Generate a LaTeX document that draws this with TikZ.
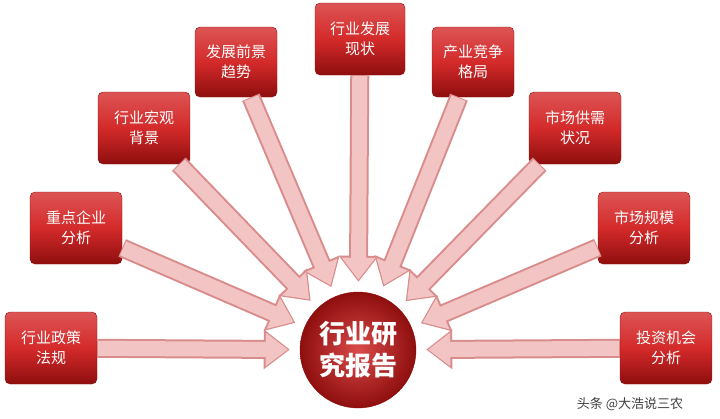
\documentclass[tikz,border=0pt]{standalone}
\usepackage{fontspec}
\setmainfont{Noto Sans CJK SC}
\usetikzlibrary{arrows.meta}
\definecolor{boxred}{HTML}{D42A2A}
\definecolor{boxdark}{HTML}{8E0E0E}
\definecolor{arrfill}{HTML}{F2C4C4}
\definecolor{arredge}{HTML}{D98C8C}
\tikzset{
  topic/.style={draw=boxdark, rounded corners=5pt, top color=boxred!80!white, bottom color=boxdark,
    middle color=boxred, text=white, minimum width=92pt, minimum height=72pt,
    align=center, font=\fontsize{15}{20}\selectfont},
  core/.style={circle, draw=boxdark, inner color=boxred!85!white, outer color=boxdark,
    text=white, minimum size=116pt, align=center, font=\fontsize{26}{32}\selectfont\bfseries},
  flowout/.style={line width=19pt, draw=arredge, shorten >=10pt,
    -{Triangle[length=26pt,width=38pt]}},
  flowin/.style={line width=15pt, draw=arrfill, shorten >=12pt, shorten <=1pt,
    -{Triangle[length=22pt,width=32pt]}}
}
\begin{document}
\begin{tikzpicture}[x=1pt,y=-1pt]
	\useasboundingbox (0,0) rectangle (720,418);
	\node[core] (report) at (358,350) {行业研\\究报告};
	% topic boxes
	\node[topic] (policy) at (51,348) {行业政策\\法规};
	\node[topic] (firms) at (76,228) {重点企业\\分析};
	\node[topic] (macro) at (144,128) {行业宏观\\背景};
	\node[topic, minimum width=82pt, minimum height=70pt] (trend) at (236,62) {发展前景\\趋势};
	\node[topic, minimum width=90pt] (status) at (360,39) {行业发展\\现状};
	\node[topic, minimum width=82pt, minimum height=70pt] (compete) at (473,62) {产业竞争\\格局};
	\node[topic] (supply) at (575,128) {市场供需\\状况};
	\node[topic] (scale) at (644,228) {市场规模\\分析};
	\node[topic] (invest) at (666,348) {投资机会\\分析};
	% arrows
	\foreach \src in {policy,firms,macro,trend,status,compete,supply,scale,invest}
		\draw[flowout] (\src) -- (report);
	\foreach \src in {policy,firms,macro,trend,status,compete,supply,scale,invest}
		\draw[flowin] (\src) -- (report);
	\node[font=\fontsize{13}{16}\selectfont, text=black!75] (mark) at (630,404) {头条 @大浩说三农};
\end{tikzpicture}
\end{document}
